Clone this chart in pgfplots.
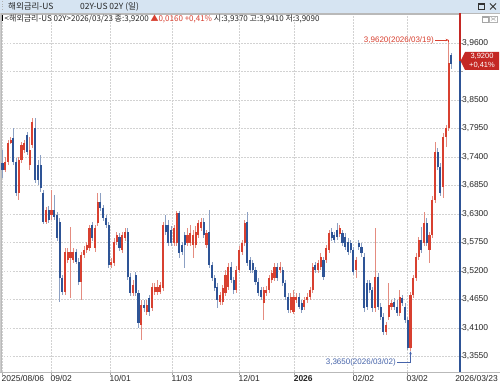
\documentclass[border=0pt]{standalone}
\usepackage{pgfplots}
\pgfplotsset{compat=1.18}
\usepackage{pgfplotstable}
\usepackage{fontspec}
\setmainfont{Liberation Sans}
\newfontfamily\kr{Noto Sans CJK KR}
\usetikzlibrary{arrows.meta}
\newcommand{\fs}[1]{\fontsize{#1}{#1}\selectfont}
\definecolor{upc}{RGB}{216,64,48}
\definecolor{dnc}{RGB}{46,84,150}
\definecolor{upw}{RGB}{228,140,128}
\definecolor{dnw}{RGB}{140,160,195}
\definecolor{tagred}{RGB}{196,40,36}
\definecolor{titlebar}{RGB}{214,228,242}
\definecolor{lowblue}{RGB}{70,100,170}

\pgfplotstableread{
x o h l c
1 3.715 3.739 3.711 3.730
2 3.730 3.772 3.724 3.767
3 3.767 3.778 3.765 3.772
6 3.670 3.740 3.657 3.734
7 3.734 3.768 3.728 3.763
8 3.753 3.772 3.748 3.767
10 3.724 3.778 3.715 3.753
11 3.763 3.815 3.757 3.807
16 3.614 3.643 3.610 3.637
18 3.628 3.676 3.618 3.637
23 3.479 3.564 3.473 3.556
24 3.541 3.564 3.535 3.556
25 3.545 3.604 3.467 3.556
26 3.541 3.564 3.535 3.556
29 3.498 3.556 3.464 3.550
30 3.550 3.568 3.545 3.560
31 3.560 3.576 3.554 3.570
32 3.564 3.608 3.558 3.603
34 3.564 3.608 3.556 3.603
35 3.612 3.670 3.606 3.653
40 3.531 3.545 3.525 3.537
41 3.535 3.583 3.529 3.576
42 3.576 3.595 3.570 3.589
44 3.560 3.595 3.554 3.589
45 3.583 3.603 3.578 3.595
48 3.477 3.502 3.471 3.493
51 3.415 3.464 3.386 3.454
53 3.440 3.464 3.435 3.454
55 3.448 3.496 3.442 3.489
56 3.479 3.496 3.473 3.489
57 3.479 3.502 3.473 3.489
58 3.479 3.498 3.475 3.493
59 3.487 3.614 3.481 3.608
63 3.574 3.608 3.568 3.603
64 3.574 3.635 3.568 3.631
68 3.574 3.603 3.568 3.589
69 3.574 3.608 3.568 3.593
70 3.570 3.599 3.545 3.589
71 3.570 3.606 3.564 3.595
72 3.589 3.618 3.583 3.612
73 3.603 3.622 3.597 3.614
75 3.570 3.599 3.564 3.593
80 3.460 3.479 3.454 3.473
81 3.460 3.493 3.454 3.487
82 3.477 3.521 3.471 3.512
83 3.489 3.535 3.483 3.527
86 3.483 3.529 3.477 3.521
87 3.521 3.568 3.516 3.560
88 3.556 3.579 3.550 3.574
89 3.574 3.618 3.568 3.612
96 3.458 3.489 3.425 3.483
97 3.477 3.491 3.471 3.483
98 3.483 3.512 3.477 3.506
99 3.502 3.521 3.496 3.516
100 3.506 3.535 3.500 3.527
102 3.521 3.537 3.516 3.527
106 3.444 3.477 3.438 3.469
107 3.440 3.483 3.437 3.469
108 3.464 3.477 3.458 3.469
111 3.450 3.469 3.444 3.464
112 3.464 3.477 3.458 3.469
113 3.469 3.489 3.464 3.483
114 3.483 3.535 3.477 3.527
116 3.521 3.541 3.516 3.535
117 3.527 3.554 3.521 3.547
119 3.541 3.570 3.535 3.564
120 3.560 3.599 3.554 3.593
124 3.591 3.608 3.585 3.603
130 3.521 3.547 3.506 3.541
137 3.448 3.603 3.440 3.508
141 3.402 3.421 3.396 3.415
142 3.431 3.496 3.425 3.454
143 3.450 3.464 3.444 3.458
146 3.438 3.483 3.433 3.469
150 3.371 3.479 3.365 3.473
151 3.473 3.512 3.467 3.506
152 3.506 3.554 3.500 3.547
153 3.547 3.585 3.541 3.579
155 3.574 3.633 3.568 3.612
157 3.560 3.595 3.535 3.589
158 3.589 3.664 3.583 3.657
159 3.657 3.769 3.651 3.749
162 3.682 3.786 3.660 3.778
163 3.778 3.801 3.759 3.796
164 3.796 3.962 3.790 3.921
}\uptab

\pgfplotstableread{
x o h l c
0 3.728 3.753 3.699 3.715
4 3.776 3.796 3.724 3.730
5 3.730 3.738 3.664 3.670
9 3.782 3.788 3.744 3.749
12 3.796 3.815 3.689 3.695
13 3.724 3.734 3.686 3.695
14 3.724 3.744 3.672 3.680
15 3.670 3.676 3.610 3.614
17 3.637 3.645 3.612 3.618
19 3.637 3.666 3.618 3.624
20 3.628 3.633 3.578 3.583
21 3.614 3.622 3.460 3.506
22 3.506 3.512 3.473 3.479
27 3.556 3.562 3.533 3.537
28 3.537 3.545 3.493 3.498
33 3.608 3.614 3.578 3.583
36 3.653 3.670 3.635 3.641
37 3.641 3.647 3.616 3.622
38 3.622 3.628 3.603 3.608
39 3.608 3.614 3.525 3.531
43 3.585 3.593 3.558 3.564
46 3.595 3.603 3.502 3.508
47 3.508 3.516 3.471 3.477
49 3.512 3.518 3.471 3.477
50 3.477 3.483 3.410 3.419
52 3.454 3.464 3.440 3.448
54 3.467 3.473 3.433 3.440
60 3.608 3.628 3.589 3.595
61 3.608 3.618 3.568 3.574
62 3.599 3.606 3.568 3.574
65 3.631 3.635 3.545 3.554
66 3.570 3.576 3.550 3.556
67 3.589 3.595 3.525 3.570
74 3.614 3.622 3.583 3.589
76 3.595 3.637 3.525 3.531
77 3.531 3.537 3.500 3.506
78 3.506 3.512 3.481 3.487
79 3.489 3.496 3.448 3.464
84 3.527 3.537 3.496 3.502
85 3.502 3.508 3.475 3.483
90 3.614 3.633 3.529 3.535
91 3.541 3.547 3.516 3.521
92 3.535 3.541 3.516 3.521
93 3.521 3.527 3.493 3.498
94 3.498 3.506 3.471 3.477
95 3.483 3.489 3.464 3.469
101 3.527 3.535 3.500 3.506
103 3.521 3.527 3.491 3.496
104 3.496 3.502 3.464 3.469
105 3.469 3.477 3.438 3.444
109 3.469 3.477 3.446 3.450
110 3.458 3.464 3.438 3.444
115 3.531 3.537 3.516 3.521
118 3.541 3.547 3.502 3.508
121 3.595 3.603 3.578 3.583
122 3.589 3.595 3.574 3.579
123 3.599 3.612 3.579 3.585
125 3.593 3.599 3.568 3.574
126 3.585 3.593 3.560 3.566
127 3.576 3.583 3.550 3.556
128 3.574 3.579 3.554 3.560
129 3.560 3.566 3.512 3.518
131 3.574 3.579 3.560 3.566
132 3.566 3.574 3.547 3.554
133 3.547 3.554 3.440 3.448
134 3.496 3.502 3.444 3.450
135 3.496 3.502 3.477 3.483
136 3.483 3.489 3.440 3.448
138 3.508 3.516 3.444 3.450
139 3.450 3.458 3.425 3.431
140 3.431 3.438 3.396 3.402
144 3.460 3.467 3.444 3.450
145 3.450 3.464 3.433 3.438
147 3.467 3.473 3.452 3.458
148 3.450 3.458 3.419 3.425
149 3.425 3.431 3.367 3.371
154 3.579 3.604 3.554 3.560
156 3.612 3.622 3.568 3.574
160 3.749 3.757 3.715 3.720
161 3.720 3.728 3.664 3.670
165 3.937 3.941 3.909 3.920
}\dntab

\begin{document}
\begin{tikzpicture}[x=1pt,y=1pt]
\useasboundingbox (0,0) rectangle (500,387);
\fill[white] (0,0) rectangle (500,387);
\fill[titlebar] (0,373.5) rectangle (500,387);
\begin{axis}[
  at={(1pt,15pt)}, anchor=south west,
  scale only axis, width=459pt, height=358pt,
  xmin=-0.55, xmax=168.2, ymin=3.3245, ymax=4.0157,
  clip=false,
  axis line style={draw=gray!55, line width=0.5pt},
  xtick={-0.2,17.8,39.5,62.3,86.9,107.2,128.9,148.7},
  xticklabels={2025/08/06,09/02,10/01,11/03,12/01,\textbf{2026},02/02,03/02},
  xtick pos=left,
  xticklabel style={anchor=north west, xshift=-1.5pt, yshift=1pt, font=\fs{8.5}, text=black!85, inner sep=1pt},
  ytick={3.355,3.41,3.465,3.52,3.575,3.63,3.685,3.74,3.795,3.85,3.96},
  extra y ticks={3.905}, extra y tick labels={},
  ytick pos=right,
  yticklabel pos=right,
  yticklabel style={anchor=west, xshift=-2pt, font=\fs{8.5}, text=black!85, inner sep=1pt,
    /pgf/number format/.cd, fixed, fixed zerofill, precision=4, use comma, assume math mode=true},
  minor y tick num=4,
  tick align=outside,
  major tick length=3pt, minor tick length=1.5pt,
  tick style={gray!70, line width=0.4pt},
  grid=major,
  major grid style={gray!35, dash pattern=on 1.5pt off 1.5pt, line width=0.4pt},
  extra tick style={grid=major},
]
% wicks
\addplot[forget plot, draw=none, mark=none,
  error bars/.cd, y dir=both, y explicit, error mark=none,
  error bar style={draw=dnw, solid, line width=0.7pt}]
  table[x=x, y expr={(\thisrow{h}+\thisrow{l})/2}, y error expr={(\thisrow{h}-\thisrow{l})/2}] {\dntab};
\addplot[forget plot, draw=none, mark=none,
  error bars/.cd, y dir=both, y explicit, error mark=none,
  error bar style={draw=upw, solid, line width=0.7pt}]
  table[x=x, y expr={(\thisrow{h}+\thisrow{l})/2}, y error expr={(\thisrow{h}-\thisrow{l})/2}] {\uptab};
% bodies
\addplot[forget plot, draw=none, mark=none,
  error bars/.cd, y dir=both, y explicit, error mark=none,
  error bar style={draw=dnc, solid, line width=2.1pt}]
  table[x=x, y expr={(\thisrow{o}+\thisrow{c})/2}, y error expr={max(abs(\thisrow{o}-\thisrow{c})/2,0.0008)}] {\dntab};
\addplot[forget plot, draw=none, mark=none,
  error bars/.cd, y dir=both, y explicit, error mark=none,
  error bar style={draw=upc, solid, line width=2.1pt}]
  table[x=x, y expr={(\thisrow{o}+\thisrow{c})/2}, y error expr={max(abs(\thisrow{o}-\thisrow{c})/2,0.0008)}] {\uptab};
% annotations
\node[anchor=east, text=upc, font=\fs{8}, inner sep=1pt] at (axis cs:159.0,3.9655) {3,9620(2026/03/19)};
\draw[upc, line width=0.5pt, -{Stealth[length=3pt,width=2.5pt]}] (axis cs:159.1,3.9655) -- (axis cs:164,3.9655);
\draw[upc, line width=0.5pt] (axis cs:164,3.9655) -- (axis cs:164,3.962);
\node[anchor=east, text=lowblue, font=\fs{8}, inner sep=1pt] at (axis cs:145.0,3.3439) {3,3650(2026/03/02)};
\draw[lowblue, line width=0.5pt, -{Stealth[length=3pt,width=2.5pt]}] (axis cs:145.1,3.3439) -- (axis cs:150,3.3439) -- (axis cs:150,3.3645);
\end{axis}
% frame lines
\draw[gray!55, line width=0.5pt] (0,15) -- (500,15);
\draw[gray!55, line width=0.5pt] (0,373.5) -- (500,373.5);
% right axis line
\draw[dnc, line width=1.6pt] (460,15) -- (460,326);
\draw[tagred, line width=1.6pt] (460,326) -- (460,373.5);
% price tag
\fill[tagred] (460.5,326) -- (465,335) -- (499,335) -- (499,317) -- (465,317) -- cycle;
\node[text=white, font=\fs{7.5}, inner sep=0pt] at (482,330.5) {3,9200};
\node[text=white, font=\fs{7.5}, inner sep=0pt] at (482,321.5) {+0,41\%};
% last date label
\node[anchor=north east, font=\fs{8.5}, text=black!85, inner sep=1pt] at (499,13) {2026/03/23};
% title bar
\node[anchor=west, font=\kr\fs{8.5}, inner sep=0pt, text=black!85] at (8,380.5) {해외금리-US};
\node[anchor=west, font=\kr\fs{8.5}, inner sep=0pt, text=black!85] at (80,380.5) {02Y-US 02Y (일)};
\foreach \yy in {377,379.5,382,384.5} {\fill[gray!60] (2,\yy) rectangle (3,\yy+1);}
\draw[black!80, line width=0.6pt] (478,377.5) rectangle (484,383.5);
\draw[black!80, line width=0.6pt] (478,382.5) -- (484,382.5);
\draw[black!80, line width=0.9pt] (490,377.5) -- (496,383.5) (490,383.5) -- (496,377.5);
% info line
\fill[black] (2,365.5) rectangle (3.4,371.5);
\node[anchor=west, font=\kr\fs{8}, inner sep=0pt, text=black!85] at (4.5,368.5)
  {\textless 해외금리-US 02Y\textgreater 2026/03/23 종:3,9200 \textcolor{upc}{▲0,0160 +0,41\%} 시:3,9370 고:3,9410 저:3,9090};
\draw[gray!70, line width=0.5pt] (482,365) rectangle (488,371);
\draw[gray!70, line width=0.5pt] (482,370) -- (488,370);
\draw[gray!60, line width=0.5pt] (489.5,365) rectangle (497,371);
\draw[gray!60, line width=0.6pt] (491,366.5) -- (495.5,369.5) (491,369.5) -- (495.5,366.5);
\draw[gray!40, line width=0.4pt] (0.5,15) -- (0.5,373.5);
\end{tikzpicture}
\end{document}
